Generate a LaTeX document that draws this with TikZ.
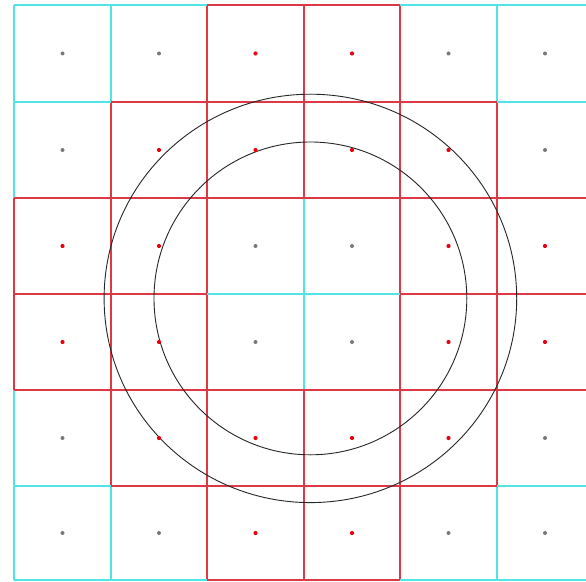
\documentclass[tikz,border=0pt]{standalone}
\definecolor{gridcyan}{RGB}{80,228,228}
\definecolor{gridred}{RGB}{222,56,70}
\definecolor{dotred}{RGB}{232,0,16}
\definecolor{dotgray}{RGB}{120,120,120}
\tikzset{
  linecyan/.style={draw=gridcyan,line width=1.2bp},
  linered/.style={draw=gridred,line width=1.2bp},
  ring/.style={draw=black!85,line width=0.9bp},
  dotg/.style={fill=dotgray},
  dotr/.style={fill=dotred}
}
\def\xs{{14,111,207,304,400,497,593}}
\def\ys{{5,102,198,294,390,486,580}}
\def\redarr{{0,0,1,1,0,0,0,1,1,1,1,0,1,1,0,0,1,1,1,1,0,0,1,1,0,1,1,1,1,0,0,0,1,1,0,0}}
% \getred{row}{col}{\result}: 1 if the cell is a red (annulus) cell
\newcommand\getred[3]{%
  \def#3{0}%
  \ifnum#1>-1 \ifnum#1<6 \ifnum#2>-1 \ifnum#2<6
    \pgfmathtruncatemacro\gridk{#1*6+#2}%
    \pgfmathtruncatemacro#3{\redarr[\gridk]}%
  \fi\fi\fi\fi}
\begin{document}
\begin{tikzpicture}[x=1bp,y=-1bp]
\useasboundingbox (0,0) rectangle (586,582);
\fill[white] (0,0) rectangle (586,582);
\clip (0,0) rectangle (586,582);
% vertical grid segments
\foreach \r in {0,...,5}{
  \foreach \i in {0,...,6}{
    \pgfmathtruncatemacro\im{\i-1}\pgfmathtruncatemacro\rn{\r+1}
    \getred{\r}{\im}{\ra}\getred{\r}{\i}{\rb}
    \pgfmathsetmacro\xa{\xs[\i]}\pgfmathsetmacro\ya{\ys[\r]}\pgfmathsetmacro\yb{\ys[\rn]}
    \pgfmathtruncatemacro\isr{max(\ra,\rb)}
    \ifnum\isr=1 \draw[linered] (\xa,\ya) -- (\xa,\yb);
    \else \draw[linecyan] (\xa,\ya) -- (\xa,\yb);\fi
  }
}
% horizontal grid segments
\foreach \j in {0,...,6}{
  \foreach \c in {0,...,5}{
    \pgfmathtruncatemacro\jm{\j-1}\pgfmathtruncatemacro\cn{\c+1}
    \getred{\jm}{\c}{\ra}\getred{\j}{\c}{\rb}
    \pgfmathsetmacro\ya{\ys[\j]}\pgfmathsetmacro\xa{\xs[\c]}\pgfmathsetmacro\xb{\xs[\cn]}
    \pgfmathtruncatemacro\isr{max(\ra,\rb)}
    \ifnum\isr=1 \draw[linered] (\xa,\ya) -- (\xb,\ya);
    \else \draw[linecyan] (\xa,\ya) -- (\xb,\ya);\fi
  }
}
% circles
\coordinate (ctr) at (310.4,298.4);
\draw[ring] (ctr) ellipse [x radius=206.3, y radius=204.2];
\draw[ring] (ctr) circle [radius=156.4];
% cell centre dots
\foreach \r in {0,...,5}{
  \foreach \c in {0,...,5}{
    \pgfmathtruncatemacro\cn{\c+1}\pgfmathtruncatemacro\rn{\r+1}
    \pgfmathsetmacro\xa{\xs[\c]}\pgfmathsetmacro\xb{\xs[\cn]}
    \pgfmathsetmacro\ya{\ys[\r]}\pgfmathsetmacro\yb{\ys[\rn]}
    \pgfmathsetmacro\xm{(\xa+\xb)/2}\pgfmathsetmacro\ym{(\ya+\yb)/2}
    \getred{\r}{\c}{\rr}
    \ifnum\rr=1 \fill[dotr] (\xm,\ym) circle [radius=2.1];
    \else \fill[dotg] (\xm,\ym) circle [radius=2];\fi
  }
}
\end{tikzpicture}
\end{document}
